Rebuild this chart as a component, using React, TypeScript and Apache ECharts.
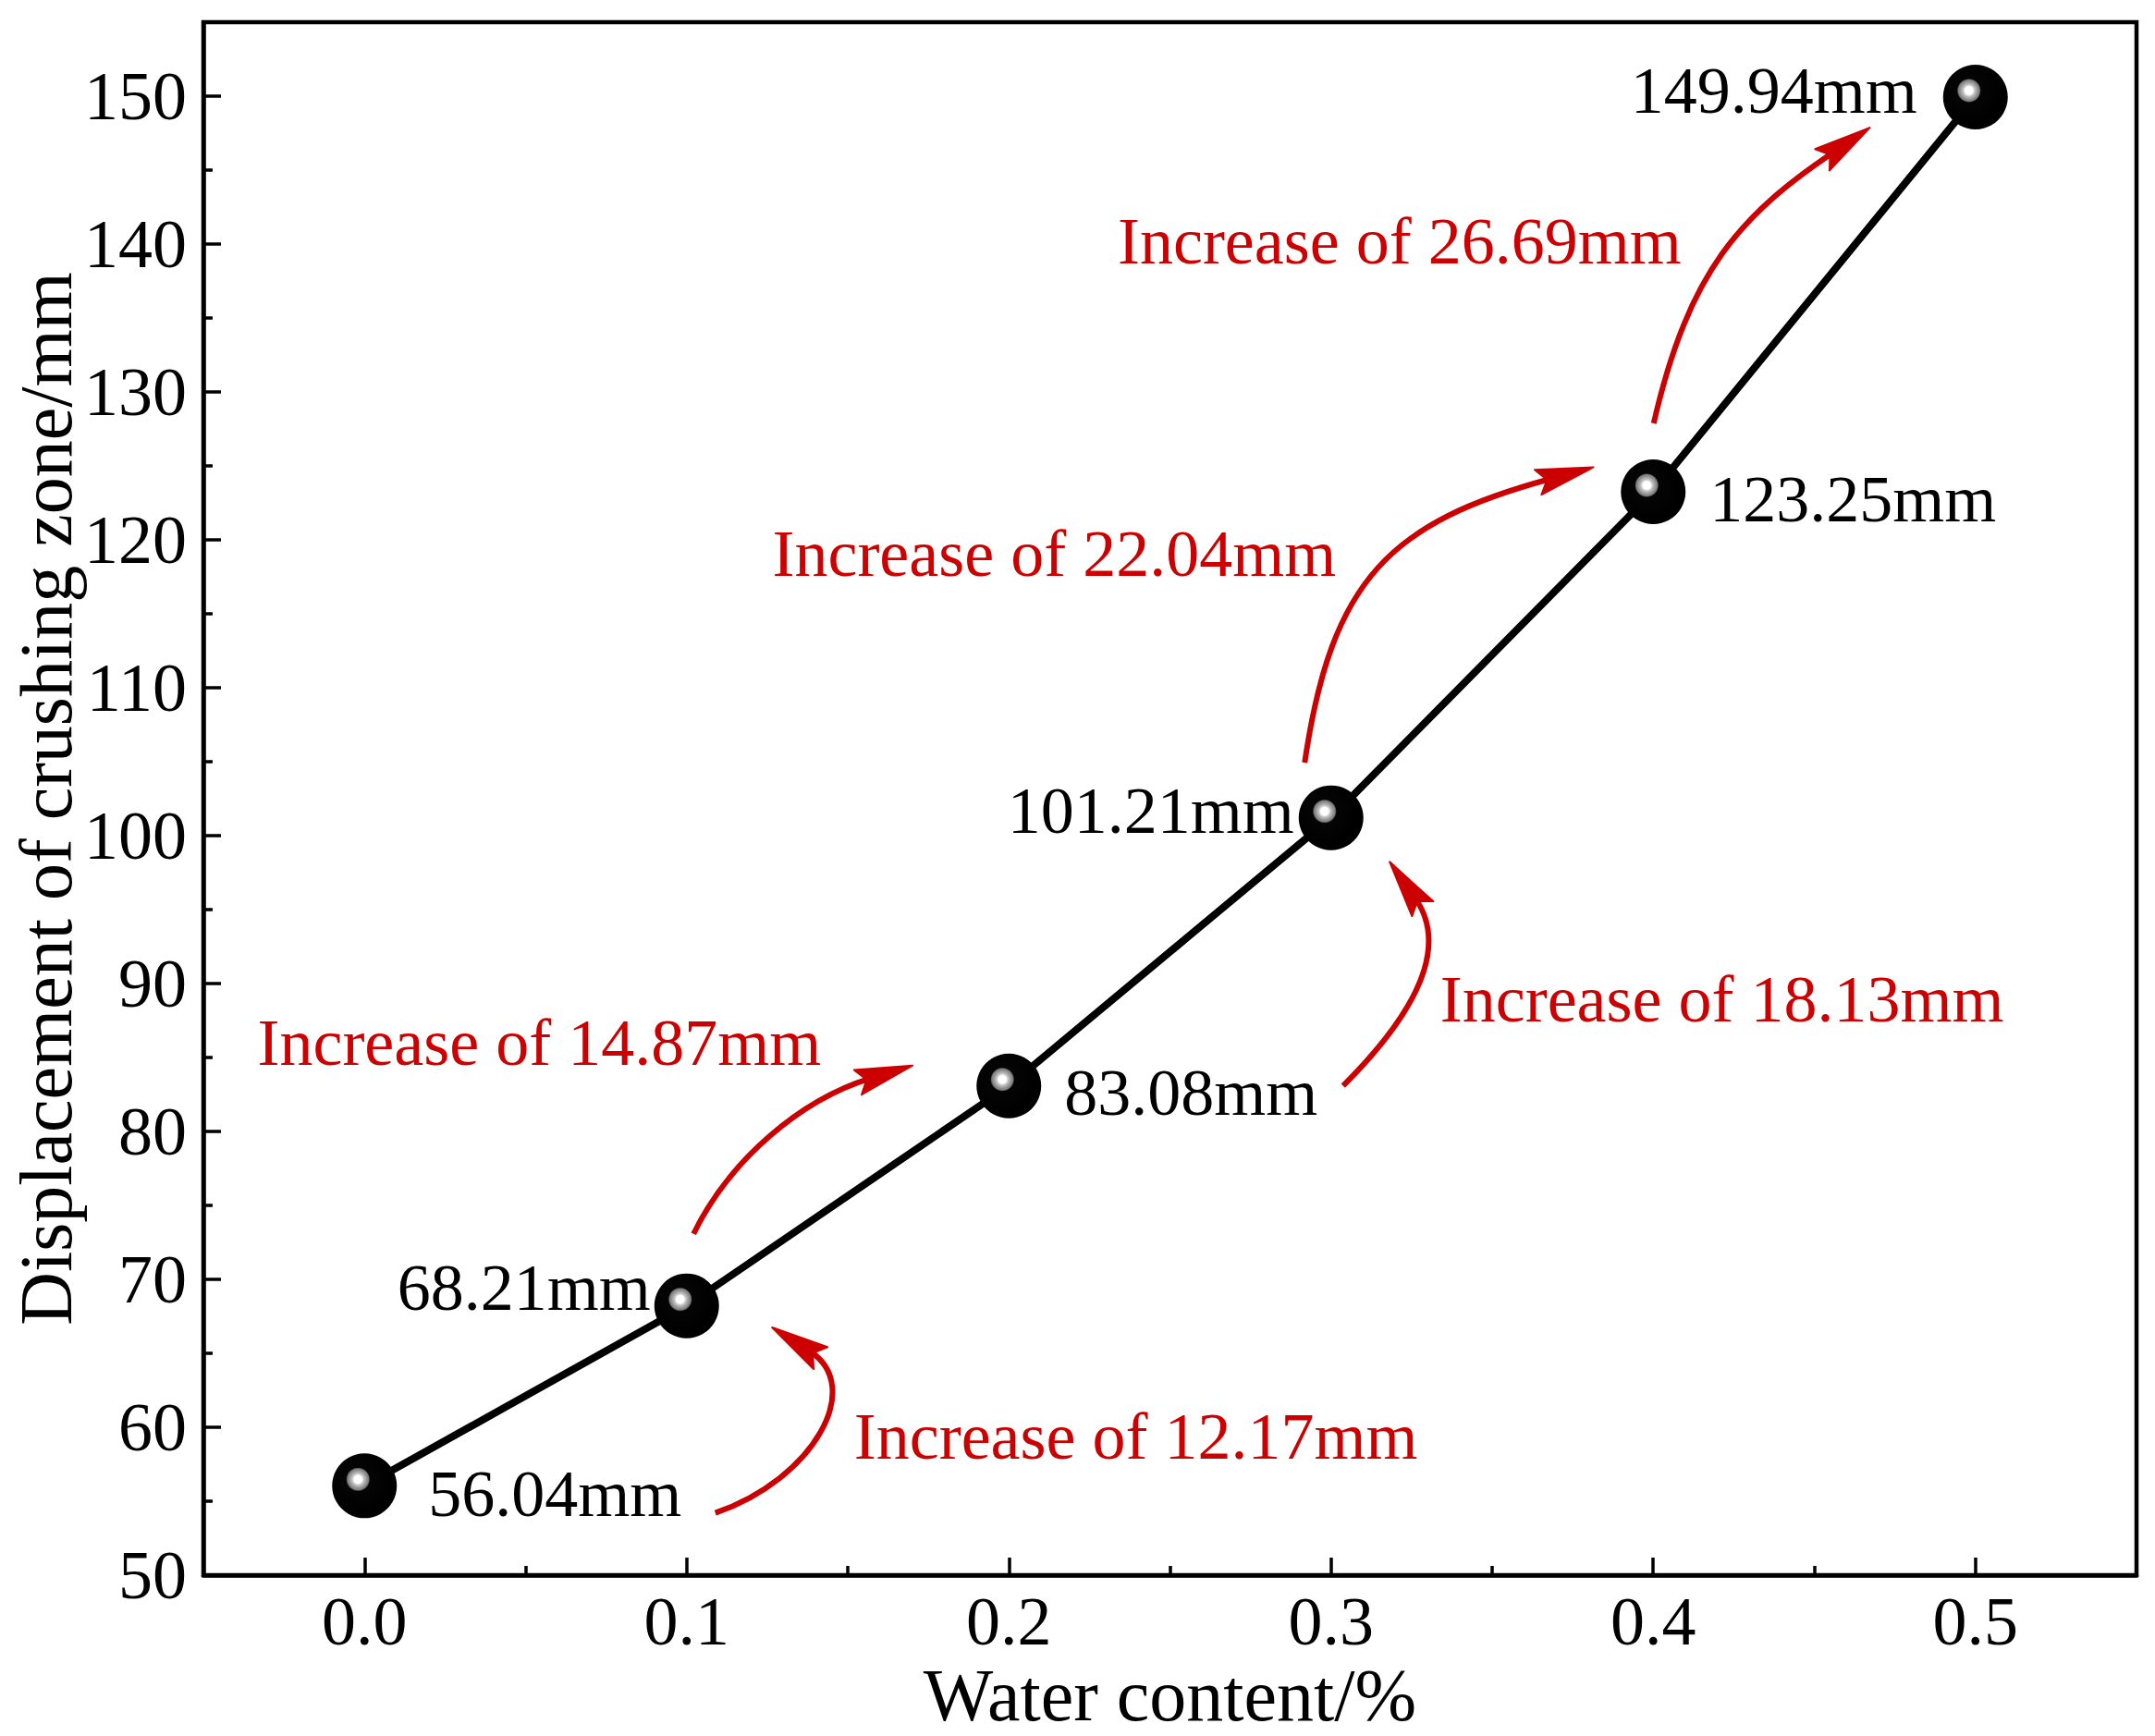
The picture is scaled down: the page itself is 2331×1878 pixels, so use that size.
import { useEffect, useRef } from 'react';
import * as echarts from 'echarts';

// measured values
const waterContent = [0, 0.1, 0.2, 0.3, 0.4, 0.5];
const displacement = [56.04, 68.21, 83.08, 101.21, 123.25, 149.94];

// axis ticks
const xTickValues = [0, 0.1, 0.2, 0.3, 0.4, 0.5];
const xMinorTickValues = [0.05, 0.15, 0.25, 0.35, 0.45];
const yTickValues = [50, 60, 70, 80, 90, 100, 110, 120, 130, 140, 150];
const yMinorTickValues = [55, 65, 75, 85, 95, 105, 115, 125, 135, 145];

const FONT = "'Times New Roman', 'Liberation Serif', serif";
const RED = '#cc0000';

// where each value label sits next to its point
const pointLabelLayout = [
  { side: 'right', distance: 34, dy: 9 },
  { side: 'left', distance: 4, dy: -20 },
  { side: 'right', distance: 25, dy: 7 },
  { side: 'left', distance: 5, dy: -8 },
  { side: 'right', distance: 26, dy: 8 },
  { side: 'left', distance: 28, dy: -7 },
];

// pixel offsets from the upper point of each segment: text anchor + bezier (start, cp1, cp2, end)
const arrowLayout = [
  { text: [181, 141], align: 'left', curve: [[31, 224], [138, 187], [193, 87], [133, 49]] },
  { text: [-203, -47], align: 'right', curve: [[-341, 160], [-302, 80], [-225, 15], [-150, -8]] },
  { text: [118, 196], align: 'left', curve: [[13, 290], [84, 219], [131, 144], [91, 87]] },
  { text: [-343, 67], align: 'right', curve: [[-377, 293], [-348, 95], [-285, 33], [-111, -14]] },
  { text: [-318, 156], align: 'right', curve: [[-348, 353], [-310, 187], [-253, 127], [-154, 60]] },
];

export default function App() {
  const chartRef = useRef<HTMLDivElement>(null);

  useEffect(() => {
    if (!chartRef.current) return;
    document.body.style.margin = '0';

    const chart = echarts.init(chartRef.current, null, { renderer: 'svg' });

    const ballColor = new echarts.graphic.RadialGradient(0.4, 0.4, 0.5, [
      { offset: 0, color: '#ffffff' },
      { offset: 0.12, color: '#ffffff' },
      { offset: 0.18, color: '#c4c4c4' },
      { offset: 0.26, color: '#9a9a9a' },
      { offset: 0.33, color: '#7a7a7a' },
      { offset: 0.37, color: '#050505' },
      { offset: 1, color: '#000000' },
    ]);

    const axisCommon = {
      axisLine: { show: true, onZero: false, lineStyle: { color: '#000', width: 4.5 } },
      splitLine: { show: false },
      nameMoveOverlap: false,
    };

    const minorAxis = {
      type: 'value',
      axisLine: { show: false, onZero: false },
      splitLine: { show: false },
      axisLabel: { show: false },
    };

    const option: any = {
      animation: false,
      backgroundColor: '#fff',
      grid: {
        left: 220,
        right: 20,
        top: 24,
        bottom: 174,
        containLabel: false,
        outerBoundsMode: 'none',
        show: true,
        borderColor: '#000',
        borderWidth: 4.5,
        backgroundColor: 'transparent',
      },
      xAxis: [
        {
          ...axisCommon,
          type: 'value',
          min: -0.05,
          max: 0.55,
          position: 'bottom',
          name: 'Water content/%',
          nameLocation: 'middle',
          nameGap: 98,
          nameTextStyle: { color: '#000', fontSize: 80, fontFamily: FONT, lineHeight: 64 },
          axisTick: {
            show: true,
            inside: true,
            length: 19,
            customValues: xTickValues,
            lineStyle: { color: '#000', width: 3.5 },
          },
          axisLabel: {
            customValues: xTickValues,
            formatter: (v: number) => v.toFixed(1),
            color: '#000',
            fontSize: 74,
            fontFamily: FONT,
            margin: 13,
          },
        },
        {
          ...minorAxis,
          min: -0.05,
          max: 0.55,
          position: 'bottom',
          axisTick: {
            show: true,
            inside: true,
            length: 10,
            customValues: xMinorTickValues,
            lineStyle: { color: '#000', width: 3.5 },
          },
        },
      ],
      yAxis: [
        {
          ...axisCommon,
          type: 'value',
          min: 50,
          max: 155,
          position: 'left',
          name: 'Displacement of crushing zone/mm',
          nameLocation: 'middle',
          nameGap: 130,
          nameTextStyle: { color: '#000', fontSize: 80, fontFamily: FONT },
          axisTick: {
            show: true,
            inside: true,
            length: 19,
            customValues: yTickValues,
            lineStyle: { color: '#000', width: 3.5 },
          },
          axisLabel: {
            customValues: yTickValues,
            color: '#000',
            fontSize: 74,
            fontFamily: FONT,
            margin: 18,
          },
        },
        {
          ...minorAxis,
          min: 50,
          max: 155,
          position: 'left',
          axisTick: {
            show: true,
            inside: true,
            length: 10,
            customValues: yMinorTickValues,
            lineStyle: { color: '#000', width: 3.5 },
          },
        },
      ],
      series: [
        {
          type: 'line',
          xAxisIndex: 0,
          yAxisIndex: 0,
          symbol: 'circle',
          symbolSize: 70,
          lineStyle: { color: '#000', width: 8 },
          itemStyle: { color: ballColor },
          label: {
            show: true,
            color: '#000',
            fontSize: 72,
            fontFamily: FONT,
            formatter: (p: any) => `${p.value[1].toFixed(2)}mm`,
          },
          data: waterContent.map((x, i) => ({
            value: [x, displacement[i]],
            label: {
              position: pointLabelLayout[i].side,
              distance: pointLabelLayout[i].distance,
              offset: [0, pointLabelLayout[i].dy],
            },
          })),
        },
      ],
    };

    chart.setOption(option);

    const graphic: any[] = [];
    arrowLayout.forEach((a, i) => {
      const [ax, ay] = chart.convertToPixel({ seriesIndex: 0 }, [
        waterContent[i + 1],
        displacement[i + 1],
      ]) as number[];
      const pts = a.curve.map(([dx, dy]) => [ax + dx, ay + dy]);
      const [s, c1, c2, e] = pts;
      let dx = e[0] - c2[0];
      let dy = e[1] - c2[1];
      const len = Math.hypot(dx, dy);
      dx /= len;
      dy /= len;
      const nx = -dy;
      const ny = dx;
      const tip = [e[0] + 48 * dx, e[1] + 48 * dy];
      const back = [tip[0] - 62 * dx, tip[1] - 62 * dy];
      const notch = [tip[0] - 52 * dx, tip[1] - 52 * dy];

      graphic.push({
        type: 'bezierCurve',
        z: 10,
        shape: {
          x1: s[0], y1: s[1],
          cpx1: c1[0], cpy1: c1[1],
          cpx2: c2[0], cpy2: c2[1],
          x2: e[0], y2: e[1],
        },
        style: { stroke: RED, lineWidth: 6, fill: null },
      });
      graphic.push({
        type: 'polygon',
        z: 10,
        shape: {
          points: [
            tip,
            [back[0] + 14 * nx, back[1] + 14 * ny],
            notch,
            [back[0] - 14 * nx, back[1] - 14 * ny],
          ],
        },
        style: { fill: RED, stroke: RED, lineWidth: 2, lineJoin: 'round' },
      });
      const inc = (displacement[i + 1] - displacement[i]).toFixed(2);
      graphic.push({
        type: 'text',
        z: 10,
        x: ax + a.text[0],
        y: ay + a.text[1],
        style: {
          text: `Increase of ${inc}mm`,
          fill: RED,
          fontSize: 72,
          fontFamily: FONT,
          align: a.align,
          verticalAlign: 'middle',
        },
      });
    });
    chart.setOption({ graphic });

    return () => {
      chart.dispose();
    };
  }, []);

  return <div ref={chartRef} style={{ width: 2331, height: 1878 }} />;
}
